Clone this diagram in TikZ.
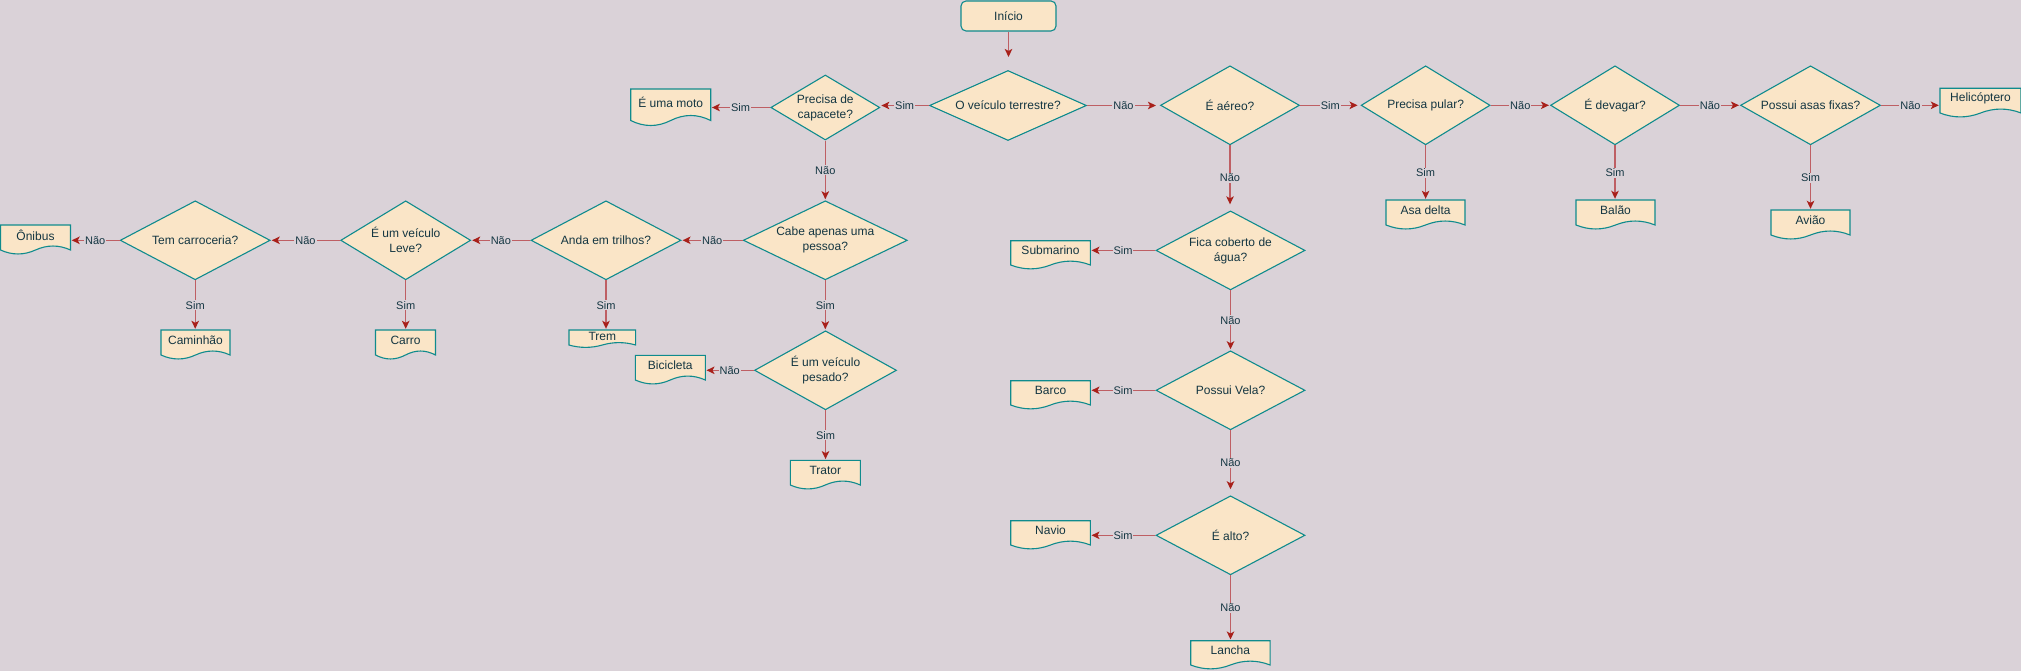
\documentclass[tikz,border=0pt]{standalone}
\usepackage{fontspec}
\setmainfont{Liberation Sans}
\usetikzlibrary{shapes.geometric,arrows.meta}
\definecolor{bgc}{HTML}{DAD2D8}
\definecolor{fillc}{HTML}{FAE5C7}
\definecolor{strokec}{HTML}{0F8B8D}
\definecolor{txtc}{HTML}{143642}
\definecolor{arrowc}{HTML}{A8201A}
\definecolor{linec}{HTML}{BE5F64}
\tikzset{
  dia/.style 2 args={diamond, draw=strokec, fill=fillc, line width=1.1pt, inner sep=0pt, minimum width=#1, minimum height=#2},
  dtext/.style={text=txtc, font=\fontsize{12}{15}\selectfont, align=center, inner sep=0pt},
  doctext/.style={text=txtc, font=\fontsize{12}{15}\selectfont, inner sep=0pt},
  docline/.style={draw=strokec, fill=fillc, line width=1.1pt},
  conn/.style={draw=linec, line width=1.3pt, -{Stealth[length=8pt,width=7.5pt,inset=2pt,color=arrowc]}, shorten >=1pt},
  elab/.style={fill=bgc, text=txtc, font=\fontsize{11}{13}\selectfont, inner sep=1pt},
  startbox/.style={rectangle, rounded corners=5pt, draw=strokec, fill=fillc, line width=1.1pt, minimum width=95pt, minimum height=30pt, inner sep=0pt, text=txtc, font=\fontsize{12}{15}\selectfont},
}
% #1 name, #2 centre x, #3 top y, #4 width, #5 side-bottom y, #6 text
\newcommand{\docshape}[6]{%
  \pgfmathsetmacro{\dcH}{(#5-#3)/0.85}%
  \pgfmathsetmacro{\dcDy}{0.3*\dcH}%
  \pgfmathsetmacro{\dcXl}{#2-#4/2}%
  \pgfmathsetmacro{\dcXr}{#2+#4/2}%
  \pgfmathsetmacro{\dcWs}{#4/6}%
  \pgfmathsetmacro{\dcUp}{#5-0.6*\dcDy}%
  \pgfmathsetmacro{\dcDn}{#5+0.6*\dcDy}%
  \pgfmathsetmacro{\dcTc}{#3+0.35*\dcH}%
  \path[docline] (\dcXl,#3) -- (\dcXr,#3) -- (\dcXr,#5)
     .. controls (\dcXr-\dcWs,\dcUp) and (#2+\dcWs,\dcUp) .. (#2,#5)
     .. controls (#2-\dcWs,\dcDn) and (\dcXl+\dcWs,\dcDn) .. (\dcXl,#5) -- cycle;
  \node[doctext, minimum width=#4, minimum height=0.7*\dcH] (#1) at (#2,\dcTc) {#6};
}
\begin{document}
\begin{tikzpicture}[x=1pt,y=-1pt]
\fill[bgc] (0,0) rectangle (2021,671);
\useasboundingbox (0,0) rectangle (2021,671);

% nodes
\node[startbox] (start) at (1008.5,16) {Início};
\node[dia={157}{70}, label={[dtext]center:O veículo terrestre?}] (terr) at (1008,105.5) {};
\node[dia={109}{65}, label={[dtext]center:{Precisa de\\capacete?}}] (cap) at (825.3,107.5) {};
\docshape{moto}{670.7}{89}{80}{120.5}{É uma moto}
\node[dia={139}{79}, label={[dtext]center:É aéreo?}] (aereo) at (1230,105.3) {};
\node[dia={129}{79}, label={[dtext]center:Precisa pular?}] (pular) at (1425.6,105.3) {};
\node[dia={129}{79}, label={[dtext]center:É devagar?}] (devagar) at (1615,105.3) {};
\node[dia={140}{79}, label={[dtext]center:Possui asas fixas?}] (asas) at (1810.5,105.3) {};
\docshape{heli}{1980.5}{88.3}{81}{113}{Helicóptero}
\docshape{asadelta}{1425.5}{200}{79}{225}{Asa delta}
\docshape{balao}{1615.5}{200}{79}{225}{Balão}
\docshape{aviao}{1810.5}{210}{79}{235}{Avião}
\node[dia={149}{79}, label={[dtext]center:{Fica coberto de\\água?}}] (fica) at (1230.5,250.4) {};
\node[dia={149}{79}, label={[dtext]center:Possui Vela?}] (vela) at (1230.5,390.3) {};
\node[dia={149}{79}, label={[dtext]center:É alto?}] (alto) at (1230.5,535.3) {};
\docshape{sub}{1050.5}{240.7}{79.6}{265}{Submarino}
\docshape{barco}{1050.5}{380.7}{79.6}{405}{Barco}
\docshape{navio}{1050.5}{520.7}{79.6}{545}{Navio}
\docshape{lancha}{1230.4}{640.7}{79.3}{665}{Lancha}
\node[dia={164}{79}, label={[dtext]center:{Cabe apenas uma\\pessoa?}}] (cabe) at (825.3,240.3) {};
\node[dia={142}{79}, label={[dtext]center:{É um veículo\\pesado?}}] (pesado) at (825.5,370.3) {};
\docshape{bici}{670.3}{355.3}{70}{380}{Bicicleta}
\docshape{trator}{825.3}{460.3}{70}{485}{Trator}
\node[dia={150}{79}, label={[dtext]center:Anda em trilhos?}] (trilhos) at (606,240.3) {};
\node[dia={130}{79}, label={[dtext]center:{É um veículo\\Leve?}}] (leve) at (405.7,240.3) {};
\node[dia={150}{79}, label={[dtext]center:Tem carroceria?}] (carroceria) at (195.2,240.3) {};
\docshape{onibus}{35.5}{225}{70}{250}{Ônibus}
\docshape{caminhao}{195.5}{330}{69}{355}{Caminhão}
\docshape{carro}{405.5}{330}{60}{355}{Carro}
\docshape{trem}{602.3}{330}{66.7}{345}{Trem}

% connectors
\draw[conn, shorten >=13pt] (start.south) -- (start.south |- terr.north);
\draw[conn] (terr.west) -- (terr.west -| cap.east) node[elab,midway]{Sim};
\draw[conn] (cap.west) -- (cap.west -| moto.east) node[elab,midway]{Sim};
\draw[conn, shorten >=4pt] (terr.east) -- (terr.east -| aereo.west) node[elab,midway]{Não};
\draw[conn] (cap.south) -- (cap.south |- cabe.north) node[elab,midway]{Não};
\draw[conn, shorten >=3pt] (aereo.east) -- (pular.west) node[elab,midway]{Sim};
\draw[conn] (pular.east) -- (devagar.west) node[elab,midway]{Não};
\draw[conn] (devagar.east) -- (asas.west) node[elab,midway]{Não};
\draw[conn] (asas.east) -- (asas.east -| heli.west) node[elab,midway]{Não};
\draw[conn] (pular.south) -- (pular.south |- asadelta.north) node[elab,midway]{Sim};
\draw[conn] (devagar.south) -- (devagar.south |- balao.north) node[elab,midway]{Sim};
\draw[conn] (asas.south) -- (asas.south |- aviao.north) node[elab,midway]{Sim};
\draw[conn, shorten >=6pt] (aereo.south) -- (aereo.south |- fica.north) node[elab,midway]{Não};
\draw[conn] (fica.west) -- (fica.west -| sub.east) node[elab,midway]{Sim};
\draw[conn] (fica.south) -- (vela.north) node[elab,midway]{Não};
\draw[conn] (vela.west) -- (vela.west -| barco.east) node[elab,midway]{Sim};
\draw[conn, shorten >=6pt] (vela.south) -- (alto.north) node[elab,midway]{Não};
\draw[conn] (alto.west) -- (alto.west -| navio.east) node[elab,midway]{Sim};
\draw[conn] (alto.south) -- (alto.south |- lancha.north) node[elab,midway]{Não};
\draw[conn] (cabe.west) -- (cabe.west -| trilhos.east) node[elab,midway]{Não};
\draw[conn] (cabe.south) -- (cabe.south |- pesado.north) node[elab,midway]{Sim};
\draw[conn] (pesado.west) -- (pesado.west -| bici.east) node[elab,midway]{Não};
\draw[conn] (pesado.south) -- (pesado.south |- trator.north) node[elab,midway]{Sim};
\draw[conn] (trilhos.west) -- (trilhos.west -| leve.east) node[elab,midway]{Não};
\draw[conn] (trilhos.south) -- (trilhos.south |- trem.north) node[elab,midway]{Sim};
\draw[conn] (leve.west) -- (leve.west -| carroceria.east) node[elab,midway]{Não};
\draw[conn] (leve.south) -- (leve.south |- carro.north) node[elab,midway]{Sim};
\draw[conn] (carroceria.west) -- (carroceria.west -| onibus.east) node[elab,midway]{Não};
\draw[conn] (carroceria.south) -- (carroceria.south |- caminhao.north) node[elab,midway]{Sim};
\end{tikzpicture}
\end{document}
